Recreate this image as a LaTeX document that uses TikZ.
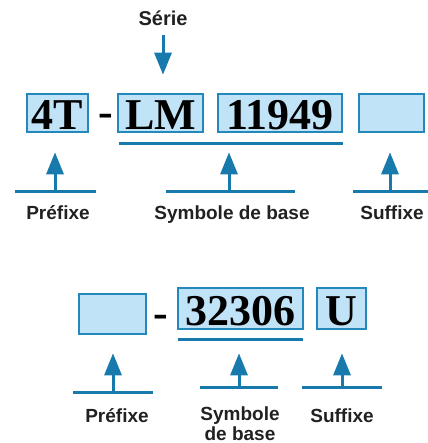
\documentclass[tikz,border=0pt]{standalone}
\usepackage{fontspec}
\setmainfont{Liberation Sans}
\newfontfamily\partfont{Liberation Serif}
\usetikzlibrary{calc,arrows.meta}
\definecolor{partline}{RGB}{36,136,186}
\definecolor{partfill}{RGB}{192,227,248}
\definecolor{pointcol}{RGB}{24,122,172}

\begin{document}
\begin{tikzpicture}[x=1pt, y=-1pt,
  part/.style={draw=partline, line width=2.6pt, fill=partfill, inner sep=0pt,
    font=\partfont\bfseries\fontsize{44}{44}\selectfont, text depth=0pt},
  dashsign/.style={font=\partfont\bfseries\fontsize{44}{44}\selectfont, anchor=base, inner sep=0pt},
  lbl/.style={font=\bfseries\fontsize{19}{20}\selectfont, text=black!87, anchor=base, align=center},
  pointer/.style={draw=pointcol, line width=3pt, -{Triangle[width=17pt,length=22pt]}},
  footline/.style={draw=pointcol, line width=3pt}]
\useasboundingbox (0,0) rectangle (427,443);

% first code
\node (serie) at (163,26) [lbl, font=\bfseries\fontsize{20}{20}\selectfont] {Série};
\node (pre1) at (57.5,113) [part, minimum width=61pt, minimum height=38pt, text height=34pt] {4T};
\node (dash1) at (106,127) [dashsign] {-};
\node (ser1) at (160.5,113) [part, minimum width=85pt, minimum height=38pt, text height=34pt] {LM};
\node (num1) at (280,113) [part, minimum width=124pt, minimum height=38pt, text height=34pt] {11949};
\node (suf1) at (391.5,113) [part, minimum width=65pt, minimum height=38pt] {};
\draw[footline] ($(ser1.south west)+(2,10)$) -- ($(num1.south east)+(0,10)$);
\draw[pointer, shorten <=5pt, shorten >=18pt] (serie.south) -- (serie.south |- ser1.north);

\coordinate (p1) at (55,192);
\coordinate (s1) at (229,192);
\coordinate (x1) at (390,192);
\draw[footline] ($(p1)+(-40,0)$) -- ($(p1)+(41,0)$);
\draw[footline] ($(s1)+(-63,0)$) -- ($(s1)+(66,0)$);
\draw[footline] ($(x1)+(-37,0)$) -- ($(x1)+(40,0)$);
\draw[pointer, shorten >=19pt] (p1) -- (p1 |- pre1.south);
\draw[pointer, shorten >=19pt] (s1) -- (s1 |- num1.south);
\draw[pointer, shorten >=19pt] (x1) -- (x1 |- suf1.south);
\node (lpre1) at (58,219) [lbl] {Préfixe};
\node (lsym1) at (232,219) [lbl] {Symbole de base};
\node (lsuf1) at (392,219) [lbl] {Suffixe};

% second code
\node (pre2) at (112.5,314) [part, minimum width=67pt, minimum height=40pt] {};
\node (dash2) at (161,327) [dashsign] {-};
\node (num2) at (240.5,308.5) [part, minimum width=125pt, minimum height=41pt, text height=33pt] {32306};
\node (suf2) at (341.5,308.5) [part, minimum width=49pt, minimum height=41pt, text height=33pt] {U};
\draw[footline] ($(num2.south west)+(1,9)$) -- ($(num2.south east)+(-1,9)$);

\coordinate (p2) at (113,392);
\coordinate (s2) at (239,387);
\coordinate (x2) at (342,387);
\draw[footline] ($(p2)+(-40,0)$) -- ($(p2)+(40,0)$);
\draw[footline] ($(s2)+(-39,0)$) -- ($(s2)+(39,0)$);
\draw[footline] ($(x2)+(-40,0)$) -- ($(x2)+(40,0)$);
\draw[pointer, shorten >=18pt] (p2) -- (p2 |- pre2.south);
\draw[pointer, shorten >=23pt] (s2) -- (s2 |- num2.south);
\draw[pointer, shorten >=23pt] (x2) -- (x2 |- suf2.south);
\node (lpre2) at (117,422) [lbl] {Préfixe};
\node (lsym2) at (240,440) [lbl] {Symbole\\de base};
\node (lsuf2) at (342,422) [lbl] {Suffixe};
\end{tikzpicture}
\end{document}
